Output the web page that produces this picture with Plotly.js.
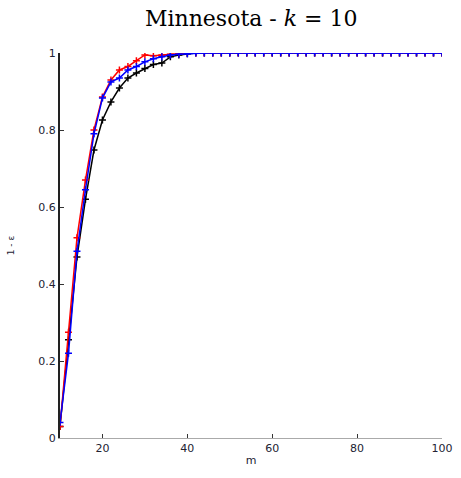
<!DOCTYPE html>
<html>
<head>
<meta charset="utf-8">
<script src="https://cdn.plot.ly/plotly-3.0.1.min.js"></script>
<style>html,body{margin:0;padding:0;background:#fff;}#chart{width:461px;height:478px;}</style>
</head>
<body>
<div id="chart"></div>
<script>
var mHead = [10,12,14,16,18,20,22,24,26,28,30,32,34,36,38,40];
var mTail = [42,44,46,48,50,52,54,56,58,60,62,64,66,68,70,72,74,76,78,80,82,84,86,88,90,92,94,96,98,100];
var redHead   = [0.03,0.275,0.52,0.67,0.80,0.886,0.93,0.956,0.965,0.98,0.995,0.993,0.995,0.997,0.998,1.0];
var blueHead  = [0.04,0.22,0.485,0.645,0.79,0.883,0.925,0.935,0.956,0.965,0.977,0.985,0.99,0.995,0.997,0.998];
var blackHead = [0.03,0.255,0.47,0.62,0.748,0.826,0.873,0.909,0.935,0.948,0.96,0.97,0.974,0.99,0.995,0.998];
var tailValue = 1.0;

var m = mHead.concat(mTail);
function full(head){ return head.concat(mTail.map(function(){return tailValue;})); }
var red = full(redHead), blue = full(blueHead), black = full(blackHead);

function tr(y, color){
  return {x:m, y:y, mode:'lines+markers', type:'scatter',
    line:{color:color, width:1.5},
    marker:{symbol:'cross-thin', size:5, line:{color:color, width:1.5}, color:color},
    showlegend:false, hoverinfo:'skip'};
}
var data = [tr(black,'#000000'), tr(red,'#ff0000'), tr(blue,'#0000ff')];

var layout = {
  width:461, height:478,
  margin:{l:60, r:19, t:53, b:40},
  paper_bgcolor:'#fff', plot_bgcolor:'#fff',
  title:{text:'Minnesota - <i>k</i> = 10', x:0.545, xanchor:'center', y:0.962, yanchor:'middle',
    font:{family:'DejaVu Serif', size:22, color:'#000'}},
  xaxis:{range:[10,100], tickvals:[20,40,60,80,100], ticks:'inside', ticklen:4, tickcolor:'#333',
    showgrid:false, zeroline:false, showline:true, linecolor:'#aaa', linewidth:1,
    tickfont:{family:'DejaVu Sans', size:11, color:'#223'},
    title:{text:'m', standoff:2, font:{family:'DejaVu Sans', size:11, color:'#223'}}},
  yaxis:{range:[0,1], tickvals:[0,0.2,0.4,0.6,0.8,1], ticktext:['0','0.2','0.4','0.6','0.8','1'],
    ticks:'inside', ticklen:4, tickcolor:'#333',
    showgrid:false, zeroline:false, showline:true, linecolor:'#222', linewidth:2,
    tickfont:{family:'DejaVu Sans', size:11, color:'#223'},
    title:{text:'1 - ε', standoff:22, font:{family:'DejaVu Sans', size:9, color:'#223'}}}
};
Plotly.newPlot('chart', data, layout, {displayModeBar:false, staticPlot:true});
</script>
</body>
</html>
